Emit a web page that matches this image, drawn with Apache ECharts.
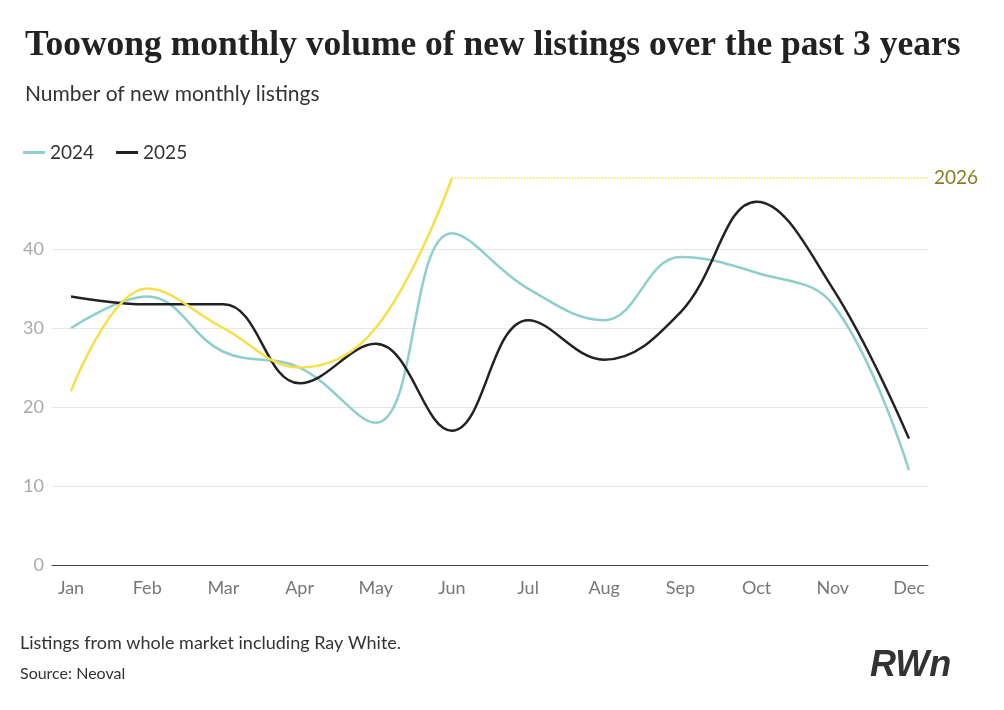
<!DOCTYPE html><html><head><meta charset="utf-8">
<script src="https://cdn.jsdelivr.net/npm/echarts@6/dist/echarts.min.js"></script>
<style>body{margin:0}#c{width:1004px;height:710px}</style></head><body><div id="c"></div><script>
const months=['Jan','Feb','Mar','Apr','May','Jun','Jul','Aug','Sep','Oct','Nov','Dec'];
const y2024=[30,34,27,25,18,42,35,31,39,37,33,12];
const y2025=[34,33,33,23,28,17,31,26,32,46,35,16];
const y2026=[22,35,30,25,30,49];
const yTicks=[0,10,20,30,40];
const pts=a=>a.map((v,i)=>[i,v]);
const ch=echarts.init(document.getElementById('c'));
const lastIdx=y2026.length-1, lastVal=y2026[lastIdx];
ch.setOption({
animation:false,
title:[{text:'Toowong monthly volume of new listings over the past 3 years',left:20,top:23,textStyle:{fontFamily:'Liberation Serif',fontWeight:'bold',fontSize:35.5,color:'#222'}},
{text:'Number of new monthly listings',left:20,top:79,textStyle:{fontFamily:'Lato',fontWeight:'normal',fontSize:21,color:'#333'}}],
legend:{left:18,top:138,itemWidth:22,itemHeight:3,icon:'rect',itemGap:22,textStyle:{fontFamily:'Lato',fontSize:19,color:'#333'},data:['2024','2025']},
grid:{left:52,right:76,top:178,bottom:145},
xAxis:{type:'value',min:-0.25,max:11.25,splitLine:{show:false},
axisLine:{show:true,lineStyle:{color:'#444'}},axisTick:{show:false},
axisLabel:{customValues:months.map((m,i)=>i),formatter:v=>months[Math.round(v)],fontFamily:'Lato',fontSize:18,color:'#777',margin:14}},
yAxis:{type:'value',min:0,max:lastVal,interval:10,axisLine:{show:false},axisTick:{show:false},
axisLabel:{customValues:yTicks,fontFamily:'Lato',fontSize:18,color:'#aaa',margin:8},
splitLine:{lineStyle:{color:['#e6e6e6','#e6e6e6','#e6e6e6','#e6e6e6','#e6e6e6','rgba(0,0,0,0)']}}},
series:[
{name:'2024',type:'line',smooth:0.4,symbol:'none',data:pts(y2024),lineStyle:{color:'#8ecfcb',width:2.5},itemStyle:{color:'#8ecfcb'}},
{name:'2025',type:'line',smooth:0.4,symbol:'none',data:pts(y2025),lineStyle:{color:'#222',width:2.5},itemStyle:{color:'#222'}},
{name:'2026',type:'line',smooth:0.4,symbol:'none',data:pts(y2026),lineStyle:{color:'#f5e04a',width:2.5},itemStyle:{color:'#f5e04a'},
markLine:{symbol:'none',silent:true,lineStyle:{color:'#f5e04a',type:'dotted',width:1.5},
label:{position:'end',formatter:'2026',fontFamily:'Lato',fontSize:19,color:'#8a7a20',distance:6},
data:[[{coord:[lastIdx,lastVal]},{coord:[11.25,lastVal]}]]}}
],
graphic:[
{type:'text',left:20,top:634,style:{text:'Listings from whole market including Ray White.',fontFamily:'Lato',fontSize:18,fill:'#333'}},
{type:'text',left:20,top:666,style:{text:'Source: Neoval',fontFamily:'Lato',fontSize:16,fill:'#333'}},
{type:'text',left:870,top:648,style:{text:'RWn',fontFamily:'Liberation Sans',fontWeight:'bold',fontStyle:'italic',fontSize:36,fill:'#333'}}
]
});
</script></body></html>
